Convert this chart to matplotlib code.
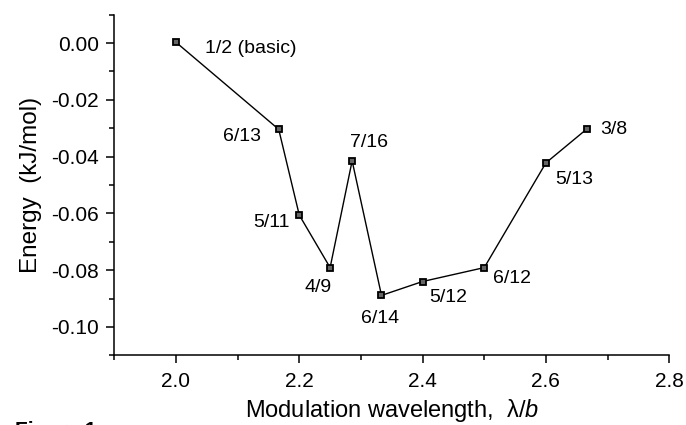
import matplotlib
matplotlib.use("Agg")
from matplotlib import pyplot as plt
from matplotlib.ticker import MultipleLocator

plt.rcParams['font.family'] = ['Liberation Sans', 'DejaVu Sans']
plt.rcParams['mathtext.fontset'] = 'custom'
plt.rcParams['mathtext.it'] = 'Liberation Sans:italic'
plt.rcParams['mathtext.rm'] = 'Liberation Sans'

# modulation wavelength (lambda/b) and energy per period
wavelength = [2.0, 13 / 6, 11 / 5, 9 / 4, 16 / 7, 14 / 6, 12 / 5, 2.5, 13 / 5, 8 / 3]
energy = [0.0003, -0.0304, -0.0606, -0.0791, -0.0415, -0.0889, -0.0840, -0.0791, -0.0422, -0.0302]
labels = ['1/2 (basic)', '6/13', '5/11', '4/9', '7/16', '6/14', '5/12', '6/12', '5/13', '3/8']

# label offsets in pixels (dx right, dy down) and alignment
offsets = [(29, 6, 'left'), (-18, 7, 'right'), (-10, 7, 'right'), (-12, 20, 'center'),
           (-2, -18, 'left'), (-1, 23, 'center'), (7, 16, 'left'), (9, 11, 'left'),
           (9, 17, 'left'), (13, 1, 'left')]

fig = plt.figure(figsize=(6.86, 4.25), dpi=100)
ax = fig.add_axes([0.1666, 0.164, 0.809, 0.8014])

ax.plot(wavelength, energy, color='black', lw=1.0, marker='s', ms=5,
        mfc='0.4', mec='black', mew=1.3)

for x, y, lab, (dx, dy, ha) in zip(wavelength, energy, labels, offsets):
    ax.annotate(lab, (x, y), xytext=(dx * 0.72, -dy * 0.72), textcoords='offset points',
                ha=ha, va='center', fontsize=14)

ax.set_xlim(1.9, 2.8)
ax.set_ylim(-0.11, 0.01)
ax.xaxis.set_major_locator(MultipleLocator(0.2))
ax.xaxis.set_minor_locator(MultipleLocator(0.1))
ax.yaxis.set_minor_locator(MultipleLocator(0.01))
ax.set_yticks([0.0, -0.02, -0.04, -0.06, -0.08, -0.10])
ax.set_yticklabels(['0.00', '-0.02', '-0.04', '-0.06', '-0.08', '-0.10'])

ax.spines['top'].set_visible(False)
ax.spines['right'].set_visible(False)
for s in ['left', 'bottom']:
    ax.spines[s].set_linewidth(1.1)
ax.tick_params(which='major', direction='out', length=6, width=1.1, labelsize=15)
ax.tick_params(axis='x', which='major', pad=6)
ax.tick_params(axis='y', which='major', pad=5)
ax.tick_params(which='minor', direction='out', length=3.5, width=1.1)

ax.set_xlabel('Modulation wavelength,  λ/$\\mathit{b}$', fontsize=17, labelpad=4)
ax.set_ylabel('Energy  (kJ/mol)', fontsize=17.5, labelpad=7)

fig.text(15 / 686, 1 - 421 / 425, 'Figure 1', fontsize=15, fontweight='bold', va='top', ha='left')

fig.savefig('out.png', dpi=100)
